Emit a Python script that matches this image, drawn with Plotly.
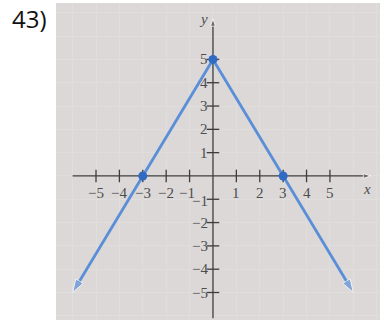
"""Inverted V graph: y = 5 - (5/3)|x| with intercepts marked."""

import plotly.graph_objects as go

# branch end points
LEFT_X = [0, -3, -6]
LEFT_Y = [5, 0, -5]
RIGHT_X = [0, 3, 6]
RIGHT_Y = [5, 0, -5]

# marked points
POINT_X = [-3, 0, 3]
POINT_Y = [0, 5, 0]

TICKS = [-5, -4, -3, -2, -1, 1, 2, 3, 4, 5]
TICK_TEXT = ["\u22125", "\u22124", "\u22123", "\u22122", "\u22121", "1", "2", "3", "4", "5"]

LINE_COLOR = "#5a8fd8"
POINT_COLOR = "#2f6bc2"
AXIS_COLOR = "#3c3c3c"
LABEL_COLOR = "#4d4d4d"
BG = "#dcd8d8"

fig = go.Figure()

# axes drawn as lines with arrow heads
fig.add_trace(go.Scatter(
    x=[-6.0, 6.75], y=[0, 0], mode="lines+markers",
    line=dict(color=AXIS_COLOR, width=1.3),
    marker=dict(symbol=["circle", "arrow"], size=[0, 8], angleref="previous",
                color=AXIS_COLOR),
    hoverinfo="skip", showlegend=False,
))
fig.add_trace(go.Scatter(
    x=[0, 0], y=[-6.1, 6.75], mode="lines+markers",
    line=dict(color=AXIS_COLOR, width=1.3),
    marker=dict(symbol=["circle", "arrow"], size=[0, 8], angleref="previous",
                color=AXIS_COLOR),
    hoverinfo="skip", showlegend=False,
))

# tick marks crossing the axes
fig.add_trace(go.Scatter(
    x=TICKS, y=[0] * len(TICKS), mode="markers",
    marker=dict(symbol="line-ns", size=9, line=dict(color=AXIS_COLOR, width=1.3)),
    hoverinfo="skip", showlegend=False,
))
fig.add_trace(go.Scatter(
    x=[0] * len(TICKS), y=TICKS, mode="markers",
    marker=dict(symbol="line-ew", size=9, line=dict(color=AXIS_COLOR, width=1.3)),
    hoverinfo="skip", showlegend=False,
))

# the graph, two branches each ending with an arrow
for bx, by in ((LEFT_X, LEFT_Y), (RIGHT_X, RIGHT_Y)):
    fig.add_trace(go.Scatter(
        x=bx, y=by, mode="lines+markers",
        line=dict(color=LINE_COLOR, width=2.8),
        marker=dict(symbol=["circle", "circle", "arrow"], size=[0, 0, 14],
                    angleref="previous", color=LINE_COLOR),
        hoverinfo="skip", showlegend=False,
    ))

fig.add_trace(go.Scatter(
    x=POINT_X, y=POINT_Y, mode="markers",
    marker=dict(size=9, color=POINT_COLOR),
    hoverinfo="skip", showlegend=False,
))

label_font = dict(family="Liberation Serif, Times New Roman, serif", size=15, color=LABEL_COLOR)

for v, t in zip(TICKS, TICK_TEXT):
    fig.add_annotation(x=v, y=0, xref="x", yref="y", text=t, showarrow=False,
                       yshift=-17, xshift=-3 if v == -1 else 0, font=label_font)
    fig.add_annotation(x=0, y=v, xref="x", yref="y", text=t, showarrow=False,
                       xanchor="right", xshift=-3, yshift=-2 if v == -1 else 0,
                       font=label_font)

axis_font = dict(family="Liberation Serif, Times New Roman, serif", size=15, color=LABEL_COLOR)
fig.add_annotation(x=6.6, y=0, text="<i>x</i>", showarrow=False, yshift=-13, font=axis_font)
fig.add_annotation(x=0, y=6.75, text="<i>y</i>", showarrow=False, xanchor="right",
                   xshift=-3, font=axis_font)

fig.add_annotation(x=-0.142, y=1.01, xref="paper", yref="paper", text="43)",
                   showarrow=False, xanchor="left", yanchor="top",
                   font=dict(family="Open Sans, Lato, sans-serif", size=24, color="#111111"))

fig.update_layout(
    width=380, height=320,
    margin=dict(l=56, r=0, t=3, b=0),
    paper_bgcolor="white",
    plot_bgcolor=BG,
    showlegend=False,
)
fig.update_xaxes(range=[-6.71, 7.14], dtick=1, tick0=0, showgrid=True, gridcolor="#e0dddd",
                 gridwidth=1, zeroline=False, showticklabels=False, ticks="")
fig.update_yaxes(range=[-6.18, 7.42], dtick=1, tick0=0, showgrid=True, gridcolor="#e0dddd",
                 gridwidth=1, zeroline=False, showticklabels=False, ticks="")

fig.write_html("out.html", config={"displayModeBar": False},
               post_script="document.body.style.margin='0';")
